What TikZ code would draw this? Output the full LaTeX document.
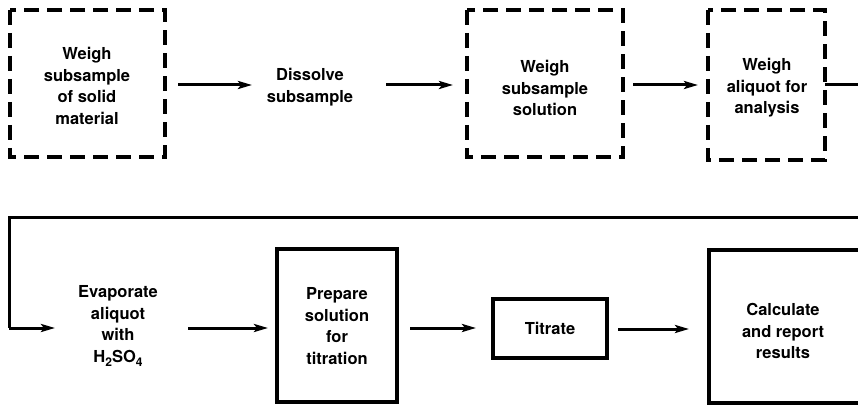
\documentclass[tikz,border=0pt]{standalone}
\usepackage{fontspec}
\setmainfont{TeX Gyre Heros}
\usetikzlibrary{arrows.meta}
\newcommand{\lowsub}[1]{\raisebox{-4pt}{\fontsize{12}{12}\selectfont #1}}
\begin{document}
\begin{tikzpicture}[x=1pt,y=-1pt,
  txt/.style={align=center,font=\fontsize{16.5}{21.5}\selectfont\bfseries,inner sep=0pt},
  dbox/.style={draw,line width=4pt,dash pattern=on 15pt off 8pt},
  sbox/.style={draw,line width=4pt},
  arr/.style={line width=3pt,-{Stealth[length=14pt,width=8pt,inset=3pt]}},
  flow/.style={line width=3pt}]
\clip (0,0) rectangle (858,406);
\fill[white] (0,0) rectangle (858,406);
% row 1
\draw[dbox] (10,10) rectangle (165,157);
\node[txt] (n1) at (87,86) {Weigh\\subsample\\of solid\\material};
\node[txt] (n2) at (310,87) {Dissolve\\subsample};
\draw[dbox] (467,10) rectangle (623,157);
\node[txt] (n3) at (545,88) {Weigh\\subsample\\solution};
\draw[dbox] (708,10) rectangle (825,160);
\node[txt] (n4) at (767,88) {Weigh\\aliquot for\\analysis};
\coordinate (b4e) at (825,85);
\coordinate (r1) at (900,85);
\coordinate (r2) at (900,217);
\coordinate (l1) at (9,217);
\coordinate (l2) at (9,328);
\coordinate (a1s) at (178,85);  \coordinate (a1e) at (252,85);
\coordinate (a2s) at (386,85);  \coordinate (a2e) at (453,85);
\coordinate (a3s) at (633,85);  \coordinate (a3e) at (698,85);
\draw[arr] (a1s) -- (a1e);
\draw[arr] (a2s) -- (a2e);
\draw[arr] (a3s) -- (a3e);
\draw[flow] (b4e) -- (r1) -- (r2) -- (l1) -- (l2);
% row 2
\coordinate (a4e) at (55,328);
\draw[arr] (l2) -- (a4e);
\node[txt] (n5) at (118,326) {Evaporate\\aliquot\\with\\H\lowsub{2}SO\lowsub{4}};
\draw[sbox] (277,249) rectangle (397,402);
\node[txt] (n6) at (337,326) {Prepare\\solution\\for\\titration};
\coordinate (a5s) at (188,328);  \coordinate (a5e) at (268,328);
\draw[arr] (a5s) -- (a5e);
\node[sbox,minimum width=114pt,minimum height=59pt,inner sep=0pt,font=\fontsize{16.5}{21.5}\selectfont\bfseries] (n7) at (550,328) {Titrate};
\coordinate (a6s) at (410,328);  \coordinate (a6e) at (476,328);
\draw[arr] (a6s) -- (a6e);
\draw[sbox] (709,250) rectangle (900,403);
\node[txt] (n8) at (783,331) {Calculate\\and report\\results};
\coordinate (a7s) at (618,329);  \coordinate (a7e) at (689,329);
\draw[arr] (a7s) -- (a7e);
\end{tikzpicture}
\end{document}
